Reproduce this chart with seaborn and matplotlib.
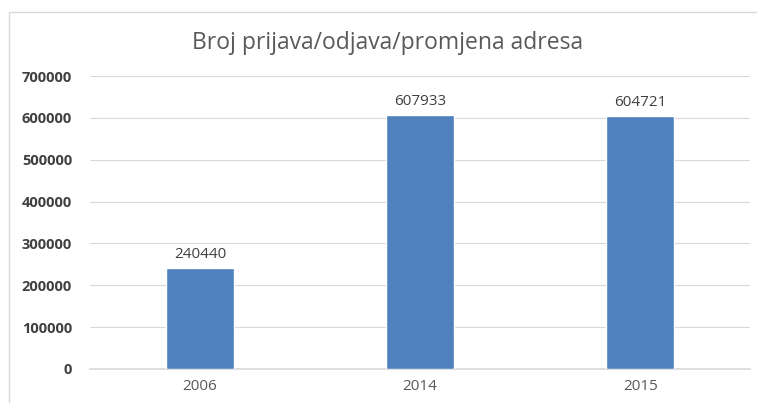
import matplotlib
matplotlib.use("Agg")
import matplotlib.pyplot as plt
import matplotlib.patches as mpatches
import pandas as pd
import seaborn as sns

years = ["2006", "2014", "2015"]
counts = [240440, 607933, 604721]
title = "Broj prijava/odjava/promjena adresa"
y_ticks = [0, 100000, 200000, 300000, 400000, 500000, 600000, 700000]

sns.set_style("white")
plt.rcParams["font.family"] = ["Open Sans", "DejaVu Sans"]

df = pd.DataFrame({"year": years, "count": counts})

fig = plt.figure(figsize=(7.57, 4.03), dpi=100)
ax = fig.add_axes([0.119, 0.0844, 0.872, 0.727])

sns.barplot(data=df, x="year", y="count", color="#4F81BD", saturation=1,
            width=0.31, ax=ax, zorder=3)

ax.set_ylim(0, 700000)
ax.set_xlim(-0.5, 2.5)
ax.set_yticks(y_ticks)
ax.set_yticklabels([str(t) for t in y_ticks], fontsize=10.5, fontweight="bold",
                   color="#404040")
ax.tick_params(axis="x", labelsize=11, labelcolor="#595959", length=0, pad=7)
ax.tick_params(axis="y", length=0, pad=13)
ax.set_xlabel("")
ax.set_ylabel("")
ax.yaxis.grid(True, color="#D9D9D9", linewidth=0.8, zorder=0)
ax.set_axisbelow(True)
for s in ["top", "right", "left"]:
    ax.spines[s].set_visible(False)
ax.spines["bottom"].set_color("#D9D9D9")
ax.spines["bottom"].set_linewidth(1.2)

for i, v in enumerate(counts):
    ax.text(i, v + 14000, str(v), ha="center", va="bottom", fontsize=11,
            color="#404040")

fig.text(0.512, 0.893, title, ha="center", va="center", fontsize=16.5,
         color="#595959")

# light chart frame
fig.patches.append(mpatches.Rectangle((0.012, -0.05), 1.0, 1.02,
                                      transform=fig.transFigure, fill=False,
                                      edgecolor="#D9D9D9", linewidth=1.0))

fig.savefig("out.png", dpi=100)
